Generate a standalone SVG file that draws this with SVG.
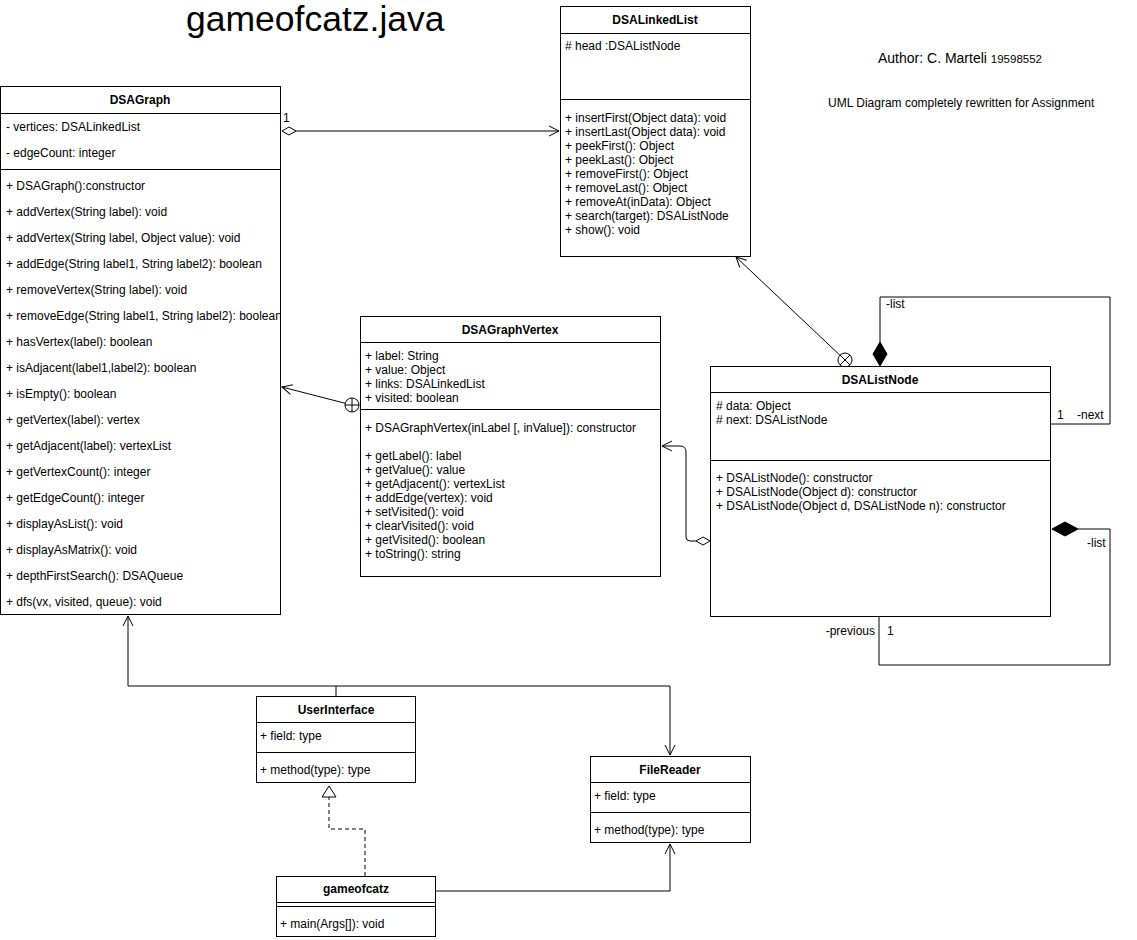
<svg xmlns="http://www.w3.org/2000/svg" width="1137" height="940" viewBox="0 0 1137 940">
<style>
text{font-family:"Liberation Sans",Arial,Helvetica,sans-serif;font-size:12px;fill:#000}
.t{font-weight:bold;text-anchor:middle}
.box{fill:#fff;stroke:#000;stroke-width:1}
.ln{stroke:#000;stroke-width:1;fill:none}
.c{stroke:#000;stroke-width:1;fill:none}
</style>
<defs>
<marker id="open" markerUnits="userSpaceOnUse" markerWidth="12" markerHeight="12" refX="10" refY="5" orient="auto" overflow="visible">
<path d="M0,0 L10,5 L0,10" fill="none" stroke="#000" stroke-width="1"/>
</marker>
<clipPath id="gclip"><rect x="0" y="86" width="280" height="528"/></clipPath>
</defs>
<rect width="1137" height="940" fill="#fff"/>

<g id="labels">
<text x="186" y="31" style="font-size:35.5px">gameofcatz.java</text>
<text x="878" y="63" style="font-size:14px">Author: C. Marteli <tspan style="font-size:11.5px">19598552</tspan></text>
<text x="828" y="107">UML Diagram completely rewritten for Assignment</text>
</g>

<g id="connectors">
<!-- DSAGraph to DSALinkedList -->
<polygon points="282,131 289,127 296,131 289,135" fill="#fff" stroke="#000"/>
<path class="c" d="M296,131 L559,131" marker-end="url(#open)"/>
<text x="283" y="122">1</text>
<!-- DSAListNode to DSALinkedList -->
<path class="c" d="M839.9,355.2 L736,257" marker-end="url(#open)"/>
<circle cx="845" cy="360" r="7" fill="#fff" stroke="#000"/>
<path class="c" d="M840,355 L850,365 M850,355 L840,365"/>
<!-- DSAGraphVertex to DSAGraph -->
<path class="c" d="M345.2,403.3 L282,387" marker-end="url(#open)"/>
<circle cx="352" cy="405" r="7" fill="#fff" stroke="#000"/>
<path class="c" d="M345,405 L359,405 M352,398 L352,412"/>
<!-- DSAListNode to DSAGraphVertex -->
<polygon points="696,541 703,537 710,541 703,545" fill="#fff" stroke="#000"/>
<path class="c" d="M696,541 L690,541 Q686,541 686,537 L686,452 Q686,446 680,446 L662,446" marker-end="url(#open)"/>
<text x="713" y="537">1</text>
<!-- self loop top -->
<polygon points="880,342 887,354 880,366 873,354" fill="#000" stroke="#000"/>
<path class="c" d="M880,342 L880,297 L1110,297 L1110,424 L1050,424"/>
<text x="886" y="308">-list</text>
<text x="1057" y="419">1</text>
<text x="1077" y="419">-next</text>
<!-- self loop bottom -->
<polygon points="1052,529 1065,522 1078,529 1065,536" fill="#000" stroke="#000"/>
<path class="c" d="M1078,529 L1110,529 L1110,665 L879,665 L879,616"/>
<text x="1087" y="547">-list</text>
<text x="875" y="635" text-anchor="end">-previous</text>
<text x="887" y="635">1</text>
<!-- UserInterface to DSAGraph and FileReader -->
<path class="c" d="M336,696 L336,686 L128,686 L128,616" marker-end="url(#open)"/>
<path class="c" d="M336,686 L670,686 L670,755" marker-end="url(#open)"/>
<!-- gameofcatz realizes UserInterface -->
<path class="c" d="M365,876 L365,829 L329,829 L329,797" stroke-dasharray="4,3"/>
<polygon points="329,786 336,797 322,797" fill="#fff" stroke="#000"/>
<!-- gameofcatz to FileReader -->
<path class="c" d="M435,891 L670,891 L670,844" marker-end="url(#open)"/>
</g>

<g id="DSAGraph">
<rect class="box" x="0.5" y="86.5" width="280" height="528"/>
<line class="ln" x1="0.5" y1="113.5" x2="280.5" y2="113.5"/>
<line class="ln" x1="0.5" y1="169.5" x2="280.5" y2="169.5"/>
<text class="t" x="140" y="104">DSAGraph</text>
<g clip-path="url(#gclip)">
<text x="6" y="131">- vertices: DSALinkedList</text>
<text x="6" y="157">- edgeCount: integer</text>
<text x="6" y="190">+ DSAGraph():constructor</text>
<text x="6" y="216">+ addVertex(String label): void</text>
<text x="6" y="242">+ addVertex(String label, Object value): void</text>
<text x="6" y="268">+ addEdge(String label1, String label2): boolean</text>
<text x="6" y="294">+ removeVertex(String label): void</text>
<text x="6" y="320">+ removeEdge(String label1, String label2): boolean</text>
<text x="6" y="346">+ hasVertex(label): boolean</text>
<text x="6" y="372">+ isAdjacent(label1,label2): boolean</text>
<text x="6" y="398">+ isEmpty(): boolean</text>
<text x="6" y="424">+ getVertex(label): vertex</text>
<text x="6" y="450">+ getAdjacent(label): vertexList</text>
<text x="6" y="476">+ getVertexCount(): integer</text>
<text x="6" y="502">+ getEdgeCount(): integer</text>
<text x="6" y="528">+ displayAsList(): void</text>
<text x="6" y="554">+ displayAsMatrix(): void</text>
<text x="6" y="580">+ depthFirstSearch(): DSAQueue</text>
<text x="6" y="606">+ dfs(vx, visited, queue): void</text>
</g>
</g>

<g id="DSALinkedList">
<rect class="box" x="560.5" y="6.5" width="190" height="250"/>
<line class="ln" x1="560.5" y1="33.5" x2="750.5" y2="33.5"/>
<line class="ln" x1="560.5" y1="99.5" x2="750.5" y2="99.5"/>
<text class="t" x="655" y="24">DSALinkedList</text>
<text x="565" y="50"># head :DSAListNode</text>
<text x="565" y="122">+ insertFirst(Object data): void</text>
<text x="565" y="136">+ insertLast(Object data): void</text>
<text x="565" y="150">+ peekFirst(): Object</text>
<text x="565" y="164">+ peekLast(): Object</text>
<text x="565" y="178">+ removeFirst(): Object</text>
<text x="565" y="192">+ removeLast(): Object</text>
<text x="565" y="206">+ removeAt(inData): Object</text>
<text x="565" y="220">+ search(target): DSAListNode</text>
<text x="565" y="234">+ show(): void</text>
</g>

<g id="DSAGraphVertex">
<rect class="box" x="360.5" y="316.5" width="300" height="260"/>
<line class="ln" x1="360.5" y1="342.5" x2="660.5" y2="342.5"/>
<line class="ln" x1="360.5" y1="409.5" x2="660.5" y2="409.5"/>
<text class="t" x="510" y="334">DSAGraphVertex</text>
<text x="365" y="360">+ label: String</text>
<text x="365" y="374">+ value: Object</text>
<text x="365" y="388">+ links: DSALinkedList</text>
<text x="365" y="402">+ visited: boolean</text>
<text x="365" y="432">+ DSAGraphVertex(inLabel [, inValue]): constructor</text>
<text x="365" y="460">+ getLabel(): label</text>
<text x="365" y="474">+ getValue(): value</text>
<text x="365" y="488">+ getAdjacent(): vertexList</text>
<text x="365" y="502">+ addEdge(vertex): void</text>
<text x="365" y="516">+ setVisited(): void</text>
<text x="365" y="530">+ clearVisited(): void</text>
<text x="365" y="544">+ getVisited(): boolean</text>
<text x="365" y="558">+ toString(): string</text>
</g>

<g id="DSAListNode">
<rect class="box" x="710.5" y="366.5" width="340" height="250"/>
<line class="ln" x1="710.5" y1="392.5" x2="1050.5" y2="392.5"/>
<line class="ln" x1="710.5" y1="460.5" x2="1050.5" y2="460.5"/>
<text class="t" x="880" y="384">DSAListNode</text>
<text x="716" y="410"># data: Object</text>
<text x="716" y="424"># next: DSAListNode</text>
<text x="716" y="482">+ DSAListNode(): constructor</text>
<text x="716" y="496">+ DSAListNode(Object d): constructor</text>
<text x="716" y="510">+ DSAListNode(Object d, DSAListNode n): constructor</text>
</g>

<g id="UserInterface">
<rect class="box" x="256.5" y="696.5" width="159" height="86"/>
<line class="ln" x1="256.5" y1="722.5" x2="415.5" y2="722.5"/>
<line class="ln" x1="256.5" y1="752.5" x2="415.5" y2="752.5"/>
<text class="t" x="336" y="714">UserInterface</text>
<text x="260" y="740">+ field: type</text>
<text x="260" y="774">+ method(type): type</text>
</g>

<g id="FileReader">
<rect class="box" x="590.5" y="756.5" width="160" height="86"/>
<line class="ln" x1="590.5" y1="782.5" x2="750.5" y2="782.5"/>
<line class="ln" x1="590.5" y1="812.5" x2="750.5" y2="812.5"/>
<text class="t" x="670" y="774">FileReader</text>
<text x="594" y="800">+ field: type</text>
<text x="594" y="834">+ method(type): type</text>
</g>

<g id="gameofcatz">
<rect class="box" x="276.5" y="876.5" width="159" height="60"/>
<line class="ln" x1="276.5" y1="902.5" x2="435.5" y2="902.5"/>
<line class="ln" x1="276.5" y1="906.5" x2="435.5" y2="906.5"/>
<text class="t" x="356" y="893">gameofcatz</text>
<text x="280" y="928">+ main(Args[]): void</text>
</g>
</svg>
